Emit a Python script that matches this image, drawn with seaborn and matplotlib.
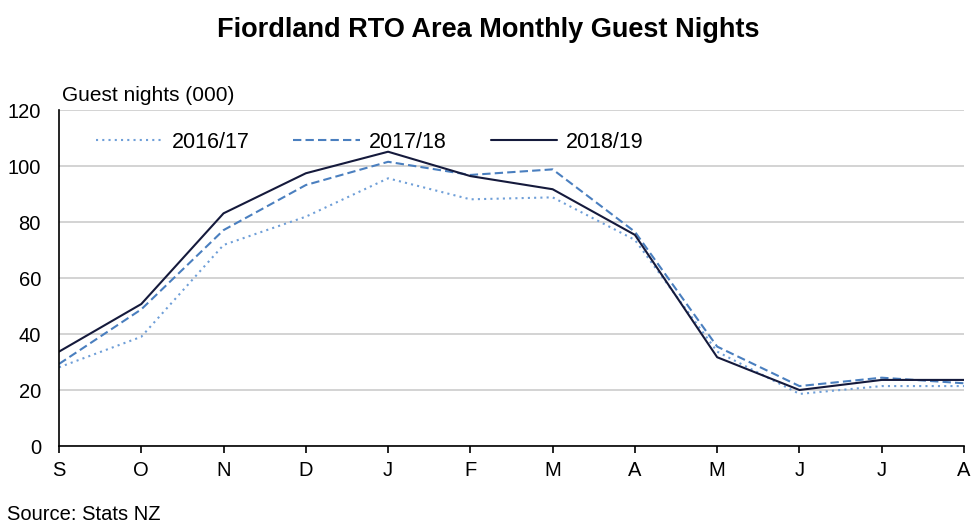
import pandas as pd
import numpy as np
import matplotlib.pyplot as plt
import seaborn as sns

# Monthly guest nights (000), Sep to Aug
months = ["S", "O", "N", "D", "J", "F", "M", "A", "M", "J", "J", "A"]
y1617 = [28.1, 39.0, 71.8, 81.9, 95.6, 88.1, 88.8, 73.6, 33.7, 18.6, 21.4, 21.4]
y1718 = [29.3, 48.8, 77.1, 93.2, 101.5, 96.8, 98.8, 76.5, 35.5, 21.4, 24.4, 22.4]
y1819 = [33.7, 50.7, 83.1, 97.4, 105.1, 96.4, 91.7, 75.4, 31.7, 20.0, 23.6, 23.6]

sns.set_style("white")
plt.rcParams["font.family"] = ["Liberation Sans", "DejaVu Sans"]
plt.rcParams["text.color"] = "black"
plt.rcParams["xtick.color"] = "black"
plt.rcParams["ytick.color"] = "black"

fig = plt.figure(figsize=(9.77, 5.26), dpi=100)
ax = fig.add_axes([59 / 977, 1 - 446 / 526, (964 - 59) / 977, (446 - 110) / 526])

x = np.arange(len(months))
sns.lineplot(x=x, y=y1617, ax=ax, color="#6f9fd8", lw=1.5,
             linestyle=(0, (1, 2)), label="2016/17")
sns.lineplot(x=x, y=y1718, ax=ax, color="#4a7fbf", lw=1.5,
             linestyle=(0, (4, 2)), label="2017/18")
sns.lineplot(x=x, y=y1819, ax=ax, color="#151a3c", lw=1.5,
             label="2018/19")

ax.set_xlim(0, len(months) - 1)
ax.set_ylim(0, 120)
ax.set_yticks(range(0, 121, 20))
ax.set_xticks(x)
ax.set_xticklabels(months)
ax.yaxis.grid(True, color="#d0d0d0", lw=1.3)
ax.set_axisbelow(True)

for s in ["top", "right"]:
    ax.spines[s].set_visible(False)
for s in ["left", "bottom"]:
    ax.spines[s].set_color("black")
    ax.spines[s].set_linewidth(1.2)

ax.tick_params(axis="x", direction="out", length=5, width=1.2,
               labelsize=14.5, pad=6, bottom=True)
ax.tick_params(axis="y", length=0, labelsize=14.5, pad=13)

ax.legend(loc="center left", bbox_to_anchor=(0.041, 0.904), ncol=3, frameon=False,
          fontsize=15.5, handlelength=3.1, columnspacing=2.05, handletextpad=0.4,
          borderaxespad=0, borderpad=0)

ax.text(0.003, 1.015, "Guest nights (000)", transform=ax.transAxes,
        fontsize=15, ha="left", va="bottom")
fig.suptitle("Fiordland RTO Area Monthly Guest Nights", fontsize=19.5,
             fontweight="bold", y=1 - 30 / 526, va="center")
fig.text(7 / 977, 1 - 515 / 526, "Source: Stats NZ", fontsize=14.5,
         ha="left", va="center")

fig.savefig("out.png", dpi=100)
